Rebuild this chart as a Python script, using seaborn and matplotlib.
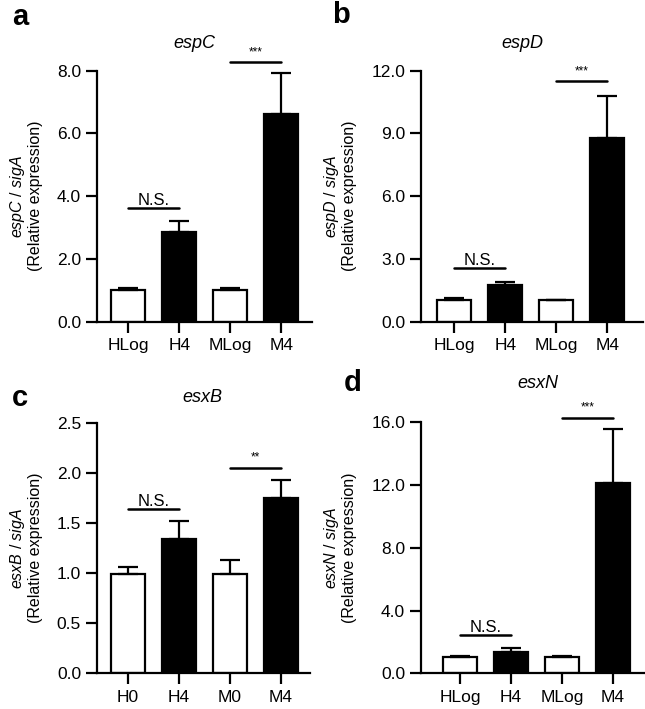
import numpy as np
import pandas as pd
import matplotlib
matplotlib.use("Agg")
import matplotlib.pyplot as plt
import seaborn as sns

# Data
catsLog = ["HLog", "H4", "MLog", "M4"]
catsZero = ["H0", "H4", "M0", "M4"]
fills = ["white", "black", "white", "black"]

espC_mean = [1.02, 2.85, 1.02, 6.62]
espC_err = [0.07, 0.36, 0.04, 1.31]
espD_mean = [1.03, 1.75, 1.03, 8.80]
espD_err = [0.08, 0.17, 0.03, 2.00]
esxB_mean = [0.99, 1.34, 0.99, 1.75]
esxB_err = [0.07, 0.18, 0.14, 0.18]
esxN_mean = [1.06, 1.36, 1.06, 12.1]
esxN_err = [0.05, 0.25, 0.03, 3.5]

# Style
sns.set_theme(style="ticks")
plt.rcParams["font.family"] = ["Liberation Sans", "DejaVu Sans"]
plt.rcParams["mathtext.fontset"] = "custom"
plt.rcParams["mathtext.rm"] = "Liberation Sans"
plt.rcParams["mathtext.it"] = "Liberation Sans:italic"
plt.rcParams["text.color"] = "black"
plt.rcParams["axes.labelcolor"] = "black"

W, H = 645, 709
fig = plt.figure(figsize=(W / 100, H / 100), dpi=100)

def axRect(x0, x1, yTop, yBot):
    return [x0 / W, 1 - yBot / H, (x1 - x0) / W, (yBot - yTop) / H]

panels = [
    dict(letter="a", gene="espC", cats=catsLog, mean=espC_mean, err=espC_err,
         ymax=8.0, ticks=[0, 2, 4, 6, 8],
         rect=axRect(97, 312, 70.7, 321.7), xlim=(-0.61, 3.6),
         ns=3.62, sig=8.27, stars="***",
         letterPos=(20, 17), titlePos=(194, 43)),
    dict(letter="b", gene="espD", cats=catsLog, mean=espD_mean, err=espD_err,
         ymax=12.0, ticks=[0, 3, 6, 9, 12],
         rect=axRect(421, 643, 70.7, 321.7), xlim=(-0.65, 3.7),
         ns=2.58, sig=11.5, stars="***",
         letterPos=(341, 15), titlePos=(522, 43)),
    dict(letter="c", gene="esxB", cats=catsZero, mean=esxB_mean, err=esxB_err,
         ymax=2.5, ticks=[0, 0.5, 1.0, 1.5, 2.0, 2.5],
         rect=axRect(97, 310, 422.7, 673.3), xlim=(-0.61, 3.57),
         ns=1.64, sig=2.05, stars="**",
         letterPos=(20, 398), titlePos=(202, 398)),
    dict(letter="d", gene="esxN", cats=catsLog, mean=esxN_mean, err=esxN_err,
         ymax=16.0, ticks=[0, 4, 8, 12, 16],
         rect=axRect(421, 645, 422.3, 673.3), xlim=(-0.77, 3.63),
         ns=2.44, sig=16.3, stars="***",
         letterPos=(353, 383), titlePos=(538, 383)),
]

for p in panels:
    ax = fig.add_axes(p["rect"])
    df = pd.DataFrame({"group": p["cats"], "value": p["mean"]})
    sns.barplot(data=df, x="group", y="value", ax=ax, width=0.67,
                palette=fills, hue="group", legend=False,
                edgecolor="black", linewidth=1.6, errorbar=None)
    xs = np.arange(len(p["cats"]))
    ax.errorbar(xs, p["mean"], yerr=[np.zeros(len(xs)), p["err"]], fmt="none",
                ecolor="black", elinewidth=1.6, capsize=7, capthick=1.6, zorder=1)

    ax.set_xlim(*p["xlim"])
    ax.set_ylim(0, p["ymax"])
    ax.set_yticks(p["ticks"])
    ax.set_yticklabels([f"{t:.1f}" for t in p["ticks"]])
    ax.set_xlabel("")
    ax.set_ylabel(r"$\it{" + p["gene"] + r"}$ / $\it{sigA}$" + "\n(Relative expression)",
                  fontsize=11.5, labelpad=10, linespacing=1.1)
    sns.despine(ax=ax)
    for s in ["left", "bottom"]:
        ax.spines[s].set_linewidth(1.6)
        ax.spines[s].set_color("black")
    ax.tick_params(axis="both", width=1.6, length=8, color="black",
                   labelsize=12.5, labelcolor="black", direction="out")
    ax.tick_params(axis="x", pad=4)

    # significance lines
    ax.plot([0, 1], [p["ns"], p["ns"]], color="black", lw=1.8, clip_on=False)
    ax.text(0.5, p["ns"], "N.S.", ha="center", va="bottom", fontsize=12)
    ax.plot([2, 3], [p["sig"], p["sig"]], color="black", lw=1.8, clip_on=False)
    ax.annotate(p["stars"], xy=(2.5, p["sig"]), xytext=(0, 3), textcoords="offset points",
                ha="center", va="bottom", fontsize=8.5, annotation_clip=False)

    # title and panel letter
    fig.text(p["titlePos"][0] / W, 1 - p["titlePos"][1] / H, p["gene"],
             ha="center", va="center", fontsize=13, style="italic")
    fig.text(p["letterPos"][0] / W, 1 - p["letterPos"][1] / H, p["letter"],
             ha="center", va="center", fontsize=21, fontweight="bold")

fig.savefig("out.png", dpi=100)
